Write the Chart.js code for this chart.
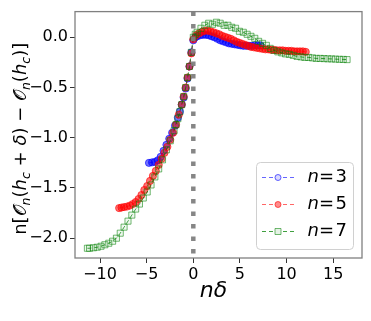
<!DOCTYPE html>
<html lang="en">
<head>
<meta charset="UTF-8">
<title>Scaling collapse</title>
<script src="https://cdn.jsdelivr.net/npm/chart.js"></script>
<style>
    body { margin: 0; background: #fff; }
    canvas { display: block; }
</style>
</head>
<body>
<canvas id="myChart" width="371" height="321"></canvas>
<script>
// n = 3 (blue circles)
const n3X = [-4.75, -4.43, -4.12, -3.81, -3.50, -3.19, -2.88, -2.58, -2.27, -1.96,
             -1.65, -1.44, -1.24, -1.03, -0.82, -0.62, -0.41, -0.21, 0.00, 0.21,
             0.41, 0.72, 1.03, 1.34, 1.65, 1.96, 2.27, 2.58, 2.88, 3.19,
             3.50, 3.81, 4.12, 4.43, 4.74, 5.05, 5.36, 5.67, 5.97, 6.28,
             6.59, 6.90, 7.21];
const n3Y = [-1.25, -1.245, -1.24, -1.225, -1.19, -1.13, -1.07, -1.01, -0.95, -0.88,
             -0.80, -0.74, -0.67, -0.60, -0.51, -0.41, -0.29, -0.15, -0.03, 0.0,
             0.01, 0.02, 0.025, 0.025, 0.02, 0.01, 0.0, -0.015, -0.03, -0.04,
             -0.05, -0.06, -0.065, -0.07, -0.075, -0.08, -0.085, -0.085, -0.085, -0.085,
             -0.08, -0.08, -0.08];

// n = 5 (red)
const n5X = [-7.95, -7.70, -7.42, -7.11, -6.80, -6.49, -6.18, -5.87, -5.56,
             -5.25, -4.94, -4.64, -4.33, -4.02, -3.71, -3.40, -3.09, -2.78, -2.47,
             -2.16, -1.85, -1.55, -1.24, -1.03, -0.82, -0.62, -0.41, -0.21, 0.00,
             0.31, 0.62, 0.93, 1.24, 1.55, 1.85, 2.16, 2.47, 2.78, 3.09,
             3.40, 3.71, 4.02, 4.33, 4.64, 4.94, 5.25, 5.56, 5.87, 6.18,
             6.49, 6.80, 7.11, 7.42, 7.73, 8.03, 8.34, 8.65, 8.96, 9.27,
             9.58, 9.89, 10.20, 10.51, 10.82, 11.12, 11.43, 11.74, 12.05];
const n5Y = [-1.70, -1.695, -1.69, -1.685, -1.675, -1.66, -1.64, -1.61, -1.57,
             -1.52, -1.48, -1.43, -1.38, -1.33, -1.27, -1.21, -1.15, -1.09, -1.02,
             -0.95, -0.87, -0.77, -0.67, -0.59, -0.50, -0.40, -0.29, -0.16, -0.02,
             0.02, 0.04, 0.055, 0.065, 0.065, 0.06, 0.05, 0.04, 0.03, 0.015,
             0.005, -0.005, -0.015, -0.03, -0.045, -0.055, -0.065, -0.075, -0.085, -0.095,
             -0.10, -0.105, -0.11, -0.115, -0.12, -0.12, -0.125, -0.125, -0.13, -0.13,
             -0.13, -0.135, -0.135, -0.135, -0.14, -0.14, -0.14, -0.14, -0.145];

// n = 7 (green squares)
const n7X = [-11.35, -11.12, -10.71, -10.30, -9.89, -9.48, -9.06, -8.65, -8.24, -7.83,
             -7.42, -7.00, -6.59, -6.18, -5.77, -5.36, -4.94, -4.53, -4.12, -3.71,
             -3.30, -2.88, -2.47, -2.06, -1.85, -1.65, -1.44, -1.24, -1.03, -0.82,
             -0.62, -0.41, -0.21, 0.00, 0.21, 0.41, 0.82, 1.24, 1.65, 2.06,
             2.47, 2.88, 3.30, 3.71, 4.12, 4.53, 4.94, 5.36, 5.77, 6.18,
             6.59, 7.00, 7.42, 7.83, 8.24, 8.65, 9.06, 9.48, 9.89, 10.30,
             10.71, 11.12, 11.54, 11.95, 12.36, 12.77, 13.18, 13.60, 14.01, 14.42,
             14.83, 15.24, 15.66, 16.07, 16.48];
const n7Y = [-2.10, -2.10, -2.095, -2.09, -2.08, -2.065, -2.05, -2.03, -2.00, -1.95,
             -1.89, -1.83, -1.77, -1.71, -1.66, -1.60, -1.54, -1.47, -1.39, -1.31,
             -1.22, -1.12, -1.03, -0.93, -0.87, -0.81, -0.74, -0.67, -0.59, -0.50,
             -0.40, -0.29, -0.15, 0.00, 0.03, 0.05, 0.09, 0.12, 0.14, 0.13,
             0.15, 0.14, 0.12, 0.12, 0.10, 0.09, 0.06, 0.05, 0.03, 0.01,
             -0.01, -0.04, -0.06, -0.08, -0.11, -0.13, -0.145, -0.155, -0.165, -0.17,
             -0.18, -0.19, -0.195, -0.20, -0.20, -0.205, -0.21, -0.21, -0.212, -0.214,
             -0.215, -0.217, -0.219, -0.22, -0.222];

const seriesN = ['3', '5', '7'];
const xTicks = [-10, -5, 0, 5, 10, 15];
const yTicks = [-2.0, -1.5, -1.0, -0.5, 0.0];
const criticalAt = 0;

const FONT = '"DejaVu Sans", sans-serif';
const minus = s => s.replace('-', '\u2212');
const toPoints = (xs, ys) => xs.map((x, i) => ({ x: x, y: ys[i] }));

const styles = [
    { line: 'rgba(0,0,255,0.6)', edge: 'rgba(0,0,255,0.6)', face: 'rgba(0,0,255,0.55)', legFace: 'rgba(0,0,255,0.15)', shape: 'circle', r: 3.6 },
    { line: 'rgba(255,0,0,0.6)', edge: 'rgba(255,0,0,0.6)', face: 'rgba(255,0,0,0.55)', legFace: 'rgba(255,0,0,0.45)', shape: 'circle', r: 3.6 },
    { line: 'rgba(0,128,0,0.75)', edge: 'rgba(0,128,0,0.55)', face: 'rgba(0,128,0,0.06)', legFace: 'rgba(0,128,0,0.1)', shape: 'rect', r: 4.3 }
];

function makeSet(i, xs, ys) {
    const s = styles[i];
    return {
        label: 'n = ' + seriesN[i],
        data: toPoints(xs, ys),
        showLine: true,
        borderColor: s.line,
        borderWidth: 1,
        borderDash: [4, 3],
        pointStyle: s.shape,
        pointRadius: s.r,
        pointBorderColor: s.edge,
        pointBackgroundColor: s.face,
        pointBorderWidth: 1,
        order: 2 - i
    };
}

// draw a run of text pieces (font, offset) centred on the origin
function drawPieces(ctx, pieces) {
    let w = 0;
    pieces.forEach(p => { ctx.font = p.f; w += ctx.measureText(p.t).width; });
    let pos = -w / 2;
    pieces.forEach(p => {
        ctx.font = p.f;
        ctx.fillText(p.t, pos, p.dy || 0);
        pos += ctx.measureText(p.t).width;
    });
}

const extras = {
    id: 'extras',
    afterDatasetsDraw(chart) {
        const { ctx, chartArea: a, scales: { x } } = chart;
        const x0 = x.getPixelForValue(criticalAt);
        ctx.save();
        ctx.beginPath();
        ctx.rect(a.left, a.top, a.right - a.left, a.bottom - a.top);
        ctx.clip();
        ctx.strokeStyle = 'rgba(128,128,128,0.95)';
        ctx.lineWidth = 4.5;
        ctx.setLineDash([4.5, 8]);
        ctx.beginPath();
        ctx.moveTo(x0, a.top);
        ctx.lineTo(x0, a.bottom);
        ctx.stroke();
        ctx.restore();
    },
    afterDraw(chart) {
        const { ctx, chartArea: a } = chart;
        ctx.save();
        // frame
        ctx.strokeStyle = '#808080';
        ctx.lineWidth = 1.3;
        ctx.strokeRect(a.left, a.top, a.right - a.left, a.bottom - a.top);

        // legend
        const bw = 97, bh = 87;
        const bx = a.right - 9 - bw, by = a.bottom - 9 - bh;
        ctx.fillStyle = 'rgba(255,255,255,0.85)';
        ctx.strokeStyle = '#d0d0d0';
        ctx.lineWidth = 1;
        ctx.beginPath();
        ctx.roundRect(bx + 0.5, by + 0.5, bw, bh, 4);
        ctx.fill();
        ctx.stroke();
        seriesN.forEach((n, i) => {
            const s = styles[i];
            const cy = by + 15.5 + i * 27;
            ctx.strokeStyle = s.line;
            ctx.lineWidth = 1;
            ctx.setLineDash([4, 3]);
            ctx.beginPath();
            ctx.moveTo(bx + 6, cy);
            ctx.lineTo(bx + 38, cy);
            ctx.stroke();
            ctx.setLineDash([]);
            ctx.fillStyle = '#fff';
            ctx.beginPath();
            if (s.shape === 'rect') {
                ctx.rect(bx + 22 - 3, cy - 3, 6, 6);
            } else {
                ctx.arc(bx + 22, cy, 3, 0, Math.PI * 2);
            }
            ctx.fill();
            ctx.fillStyle = s.legFace;
            ctx.strokeStyle = s.edge;
            ctx.fill();
            ctx.stroke();
            ctx.fillStyle = '#000';
            ctx.textBaseline = 'middle';
            ctx.textAlign = 'left';
            const tx = bx + 51.5;
            ctx.font = 'italic 18px ' + FONT;
            ctx.fillText('n', tx, cy);
            ctx.font = '18px ' + FONT;
            ctx.fillText('=', tx + 11.5, cy);
            ctx.fillText(n, tx + 28, cy);
        });

        // axis titles
        ctx.fillStyle = '#000';
        ctx.textAlign = 'left';
        ctx.textBaseline = 'alphabetic';
        ctx.save();
        ctx.translate((a.left + a.right) / 2 - 5, 297);
        drawPieces(ctx, [
            { t: 'n', f: 'italic 22px ' + FONT },
            { t: '\u03b4', f: 'italic 22px ' + FONT }
        ]);
        ctx.restore();

        const big = '18px ' + FONT, it = 'italic 18px ' + FONT, sub = 'italic 12.5px ' + FONT;
        ctx.save();
        ctx.translate(26, (a.top + a.bottom) / 2 + 4);
        ctx.rotate(-Math.PI / 2);
        drawPieces(ctx, [
            { t: 'n[', f: big },
            { t: '\ud835\udcaa', f: big },
            { t: 'n', f: sub, dy: 4 },
            { t: '(', f: big },
            { t: 'h', f: it },
            { t: 'c', f: sub, dy: 4 },
            { t: ' + ', f: big },
            { t: '\u03b4', f: it },
            { t: ') \u2212 ', f: big },
            { t: '\ud835\udcaa', f: big },
            { t: 'n', f: sub, dy: 4 },
            { t: '(', f: big },
            { t: 'h', f: it },
            { t: 'c', f: sub, dy: 4 },
            { t: ')]', f: big }
        ]);
        ctx.restore();
        ctx.restore();
    }
};

const ctx = document.getElementById('myChart').getContext('2d');
const myChart = new Chart(ctx, {
    type: 'scatter',
    data: {
        datasets: [
            makeSet(0, n3X, n3Y),
            makeSet(1, n5X, n5Y),
            makeSet(2, n7X, n7Y)
        ]
    },
    options: {
        responsive: false,
        animation: false,
        layout: { padding: { left: 0, right: 9, top: 9, bottom: 0 } },
        plugins: { legend: { display: false }, tooltip: { enabled: false } },
        scales: {
            x: {
                type: 'linear',
                min: -12.68,
                max: 18.08,
                afterBuildTicks: axis => { axis.ticks = xTicks.map(v => ({ value: v })); },
                afterFit: axis => { axis.height = 63; },
                grid: { drawOnChartArea: false, drawTicks: true, tickLength: 5, color: '#333' },
                border: { display: false },
                ticks: {
                    color: '#000',
                    padding: 2,
                    maxRotation: 0,
                    font: { family: FONT, size: 16 },
                    callback: v => minus(String(v))
                }
            },
            y: {
                type: 'linear',
                min: -2.197,
                max: 0.256,
                afterBuildTicks: axis => { axis.ticks = yTicks.map(v => ({ value: v })); },
                afterFit: axis => { axis.width = 75; },
                grid: { drawOnChartArea: false, drawTicks: true, tickLength: 5, color: '#333' },
                border: { display: false },
                ticks: {
                    color: '#000',
                    padding: 2,
                    font: { family: FONT, size: 16 },
                    callback: v => minus(v.toFixed(1))
                }
            }
        }
    },
    plugins: [extras]
});
</script>
</body>
</html>
